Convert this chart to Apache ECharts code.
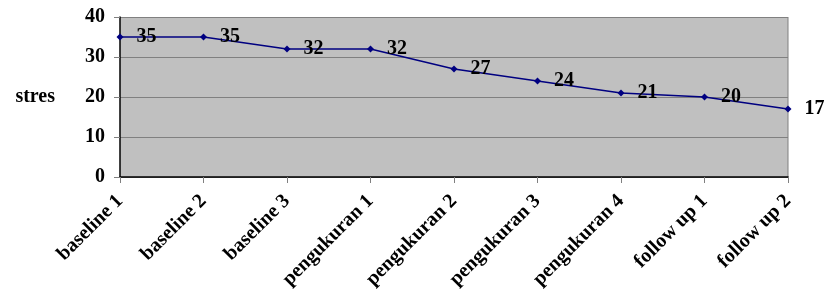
<!DOCTYPE html>
<html>
<head>
<meta charset="utf-8">
<script src="https://cdn.jsdelivr.net/npm/echarts@6/dist/echarts.min.js"></script>
<style>
  html, body { margin: 0; padding: 0; background: #fff; }
  #chart { width: 827px; height: 297px; }
</style>
</head>
<body>
<div id="chart"></div>
<script>
// data
var categories = ['baseline 1', 'baseline 2', 'baseline 3', 'pengukuran 1', 'pengukuran 2',
                  'pengukuran 3', 'pengukuran 4', 'follow up 1', 'follow up 2'];
var stres = [35, 35, 32, 32, 27, 24, 21, 20, 17];
var yTicks = [0, 10, 20, 30, 40];

var font = '"Liberation Serif", "Times New Roman", serif';

var chart = echarts.init(document.getElementById('chart'));
chart.setOption({
  animation: false,
  grid: {
    left: 120, right: 39, top: 17, bottom: 120,
    outerBoundsMode: 'none',
    backgroundColor: '#c0c0c0', show: true, borderWidth: 0
  },
  xAxis: {
    type: 'category',
    data: categories,
    boundaryGap: false,
    axisLine: { lineStyle: { color: '#000', width: 1.5 } },
    axisTick: { show: true, alignWithLabel: true, length: 6, lineStyle: { color: '#808080' } },
    axisLabel: {
      rotate: 45, interval: 0, margin: 21,
      color: '#000', fontFamily: font, fontWeight: 'bold', fontSize: 20
    },
    splitLine: { show: false }
  },
  yAxis: {
    type: 'value',
    min: yTicks[0], max: yTicks[yTicks.length - 1], interval: 10,
    name: 'stres', nameLocation: 'middle', nameRotate: 0, nameGap: 65,
    nameTextStyle: { color: '#000', fontFamily: font, fontWeight: 'bold', fontSize: 20 },
    axisLine: { show: true, lineStyle: { color: '#000', width: 1.5 } },
    axisTick: { show: true, length: 6, lineStyle: { color: '#808080' } },
    axisLabel: { color: '#000', fontFamily: font, fontWeight: 'bold', fontSize: 20, margin: 15 },
    splitLine: { show: true, lineStyle: { color: '#808080', width: 1 } }
  },
  series: [{
    type: 'line',
    data: stres,
    symbol: 'diamond',
    symbolSize: 7,
    color: '#000080',
    lineStyle: { color: '#000080', width: 1.5 },
    label: {
      show: true, position: 'right', distance: 13,
      color: '#000', fontFamily: font, fontWeight: 'bold', fontSize: 20
    }
  }],
  graphic: [{
    type: 'line',
    shape: { x1: 788, y1: 17, x2: 788, y2: 177 },
    style: { stroke: '#808080', lineWidth: 1 }
  }]
});
</script>
</body>
</html>
